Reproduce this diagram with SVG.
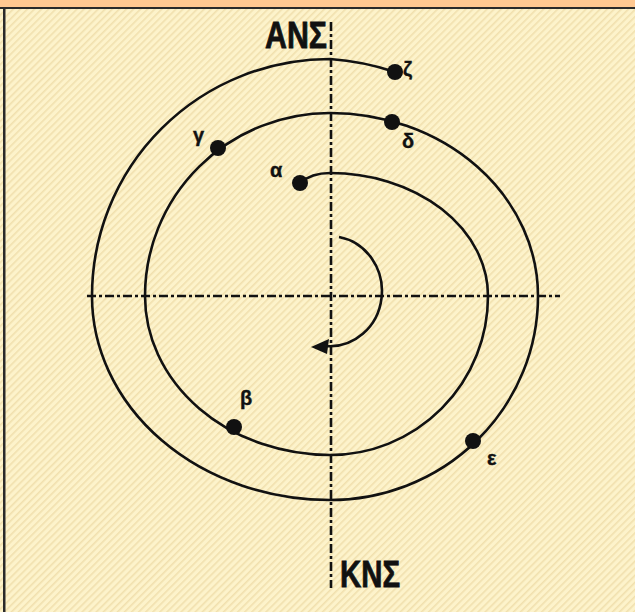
<svg xmlns="http://www.w3.org/2000/svg" width="635" height="612" viewBox="0 0 635 612">
<defs>
<pattern id="hatch" patternUnits="userSpaceOnUse" width="5" height="5" patternTransform="rotate(45)">
<rect width="5" height="5" fill="#FDF3CB"/>
<rect width="1.6" height="5" fill="#F1E0AE"/>
</pattern>
</defs>
<style>
.axis{stroke:#111;stroke-width:2.6;fill:none;stroke-dasharray:9 3 3 3}
.curve{stroke:#111;stroke-width:2.6;fill:none}
.dot{fill:#111}
.head{fill:#111}
.big{font-family:"Liberation Sans",Arial,sans-serif;font-weight:bold;font-size:36px;fill:#111;stroke:#111;stroke-width:0.8}
.lbl{font-family:"Liberation Sans",Arial,sans-serif;font-weight:bold;font-size:20px;fill:#111;stroke:#111;stroke-width:0.4}
</style>
<rect x="0" y="0" width="635" height="612" fill="url(#hatch)"/>
<rect x="0" y="0" width="635" height="7" fill="#FFC891"/>
<rect x="0" y="7" width="635" height="2" fill="#2a2a2a"/>
<rect x="3" y="7" width="2.5" height="605" fill="#2a2a2a"/>
<g id="connectors">
<line class="axis" x1="331" y1="22" x2="331" y2="588"/>
<line class="axis" x1="87" y1="296" x2="560" y2="296"/>
<path class="curve" d="M300,183 C308,176 318,173 330,173 A158,123 0 0 1 488,296 A158,159 0 0 1 330,455 A185,159 0 0 1 145,296 A185,183 0 0 1 330,113 A208,183 0 0 1 538,296 A208,204 0 0 1 330,500 A238,204 0 0 1 92,296 A238,237 0 0 1 330,59 A250,237 0 0 1 395,72"/>
<path class="curve" d="M339,237 A52,55 0 0 1 326,346"/>
<path class="head" d="M311,347 L329,339 L327,354 Z"/>
</g>
<g id="ANS"><text class="big" x="265" y="48" textLength="62" lengthAdjust="spacingAndGlyphs">ΑΝΣ</text></g>
<g id="KNS"><text class="big" x="340" y="587" textLength="60" lengthAdjust="spacingAndGlyphs">ΚΝΣ</text></g>
<g id="alpha"><circle class="dot" cx="300" cy="183" r="8"/><text class="lbl" x="270" y="177">α</text></g>
<g id="beta"><circle class="dot" cx="234" cy="427" r="8"/><text class="lbl" x="240" y="405">β</text></g>
<g id="gamma"><circle class="dot" cx="218" cy="148" r="8"/><text class="lbl" x="193" y="142">γ</text></g>
<g id="delta"><circle class="dot" cx="392" cy="122" r="8"/><text class="lbl" x="402" y="148">δ</text></g>
<g id="epsilon"><circle class="dot" cx="473" cy="441" r="8"/><text class="lbl" x="487" y="465">ε</text></g>
<g id="zeta"><circle class="dot" cx="395" cy="72" r="8"/><text class="lbl" x="403" y="76">ζ</text></g>
</svg>
